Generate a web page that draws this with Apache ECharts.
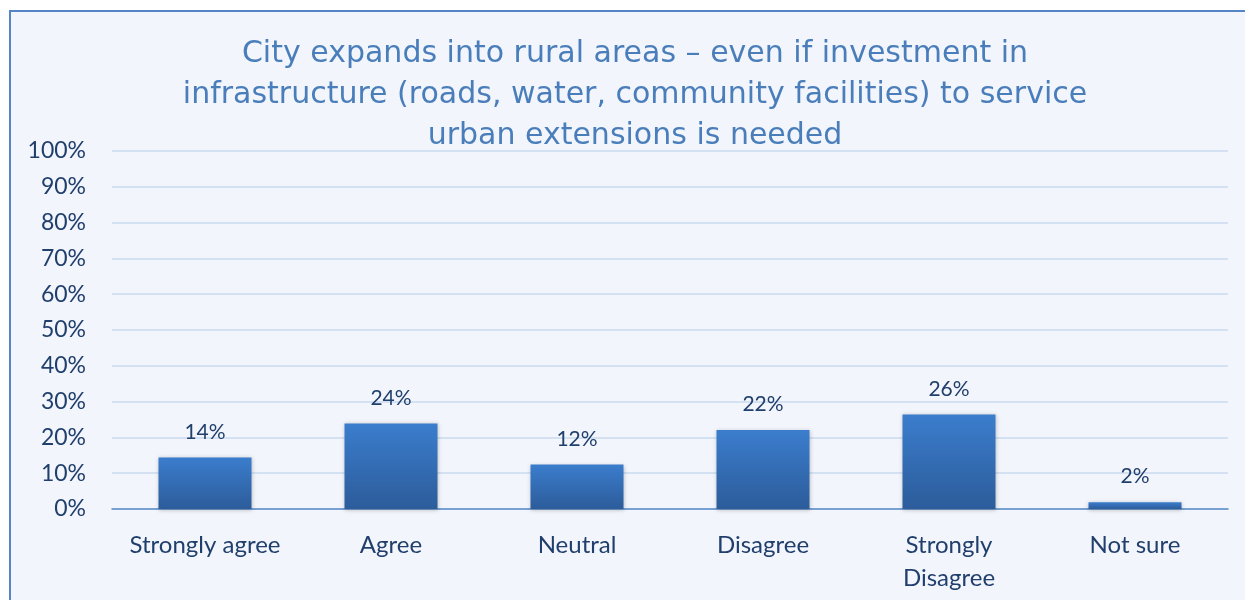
<!DOCTYPE html>
<html>
<head>
<meta charset="utf-8">
<script src="https://cdn.jsdelivr.net/npm/echarts@6/dist/echarts.min.js"></script>
<style>
  html, body { margin: 0; padding: 0; background: #fff; }
  #chart {
    position: absolute;
    left: 9px; top: 10px;
    width: 1250px; height: 600px;
    box-sizing: border-box;
    border: 2px solid #5585c5;
    background: #f2f5fb;
  }
</style>
</head>
<body>
<div id="chart"></div>
<script>
const categories = ['Strongly agree', 'Agree', 'Neutral', 'Disagree', 'Strongly\nDisagree', 'Not sure']
const shares = [14.4, 23.9, 12.4, 22.1, 26.4, 1.9]
const yTicks = [0, 10, 20, 30, 40, 50, 60, 70, 80, 90, 100]

const chart = echarts.init(document.getElementById('chart'))
chart.setOption({
  animation: false,
  textStyle: { fontFamily: 'Lato' },
  title: {
    text: 'City expands into rural areas \u2013 even if investment in\ninfrastructure (roads, water, community facilities) to service\nurban extensions is needed',
    left: 619,
    top: 17,
    textAlign: 'center',
    textStyle: {
      fontFamily: 'DejaVu Sans',
      fontWeight: 'normal',
      fontSize: 30,
      lineHeight: 41,
      color: '#4a7ebb'
    }
  },
  grid: {
    left: 101,
    right: 29,
    top: 139,
    bottom: 99
  },
  xAxis: {
    type: 'category',
    data: categories,
    axisTick: { show: false },
    axisLine: { lineStyle: { color: '#5b8ac6', width: 1.5 } },
    axisLabel: {
      interval: 0,
      color: '#203f6c',
      fontSize: 24,
      margin: 20,
      lineHeight: 33
    }
  },
  yAxis: {
    type: 'value',
    min: yTicks[0],
    max: yTicks[yTicks.length - 1],
    interval: 10,
    axisLine: { show: false },
    axisTick: { show: false },
    splitLine: { lineStyle: { color: '#d3e1f2', width: 2 } },
    axisLabel: {
      color: '#203f6c',
      fontSize: 23,
      margin: 26,
      formatter: v => v + '%'
    }
  },
  series: [{
    type: 'bar',
    data: shares,
    barWidth: '50%',
    itemStyle: {
      color: new echarts.graphic.LinearGradient(0, 0, 0, 1, [
        { offset: 0, color: '#3b7dcd' },
        { offset: 1, color: '#2c5c9a' }
      ]),
      shadowColor: 'rgba(0,0,0,0.25)',
      shadowBlur: 4,
      shadowOffsetY: 1
    },
    label: {
      show: true,
      position: 'top',
      distance: 15,
      color: '#203f6c',
      fontSize: 21,
      formatter: p => p.value.toFixed(0) + '%'
    }
  }]
})
</script>
</body>
</html>
